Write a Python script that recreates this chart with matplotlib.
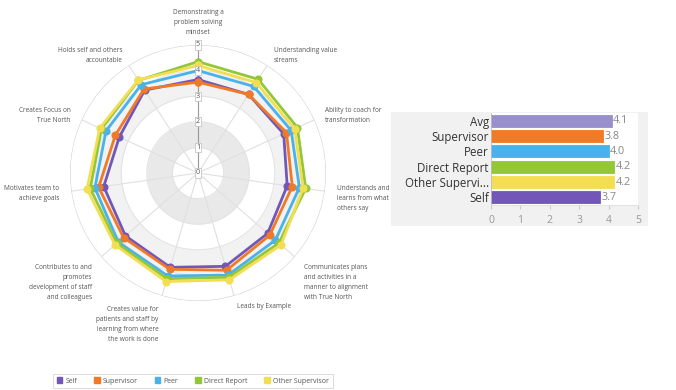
import numpy as np
import matplotlib
matplotlib.use("Agg")
import matplotlib.pyplot as plt
from matplotlib.patches import Rectangle, Patch

plt.rcParams['font.family'] = ['Open Sans', 'DejaVu Sans']

# ---------------- data ----------------
categories = [
    "Demonstrating a\nproblem solving\nmindset",
    "Understanding value\nstreams",
    "Ability to coach for\ntransformation",
    "Understands and\nlearns from what\nothers say",
    "Communicates plans\nand activities in a\nmanner to alignment\nwith True North",
    "Leads by Example",
    "Creates value for\npatients and staff by\nlearning from where\nthe work is done",
    "Contributes to and\npromotes\ndevelopment of staff\nand colleagues",
    "Motivates team to\nachieve goals",
    "Creates Focus on\nTrue North",
    "Holds self and others\naccountable",
]
series_names = ["Self", "Supervisor", "Peer", "Direct Report", "Other Supervisor"]
self_vals = [3.65, 3.65, 3.68, 3.52, 3.60, 3.80, 3.84, 3.75, 3.72, 3.38, 3.85]
supervisor_vals = [3.55, 3.65, 3.80, 3.72, 3.71, 3.96, 3.92, 3.85, 3.92, 3.55, 3.90]
peer_vals = [4.00, 4.02, 4.00, 4.00, 4.00, 4.16, 4.19, 4.12, 4.07, 3.95, 4.10]
direct_vals = [4.35, 4.35, 4.27, 4.25, 4.18, 4.25, 4.30, 4.20, 4.25, 4.15, 4.30]
other_vals = [4.20, 4.20, 4.15, 4.15, 4.29, 4.35, 4.42, 4.29, 4.38, 4.22, 4.32]
radial_ticks = [0, 1, 2, 3, 4, 5]

bar_labels = ["Avg", "Supervisor", "Peer", "Direct Report", "Other Supervi...", "Self"]
bar_values = [4.1, 3.8, 4.0, 4.2, 4.2, 3.7]
bar_ticks = [0, 1, 2, 3, 4, 5]

# ---------------- styles ----------------
series_colors = ["#7257b8", "#f07a26", "#4ab2ea", "#93c738", "#f3de52"]
bar_colors = ["#9890cc", "#f07a26", "#4ab2ea", "#93c738", "#f3de52", "#7257b8"]

fig = plt.figure(figsize=(6.76, 3.90), dpi=100)
W, H = 676.0, 390.0

# bar-chart background panel (drawn first, behind everything)
fig.patches.append(Rectangle((391 / W, 1 - 226 / H), 257 / W, 114 / H,
                             transform=fig.transFigure, facecolor="#f1f1f1",
                             edgecolor="none", zorder=-10))

# ---------------- radar ----------------
cx, cy, R5 = 198.0, 173.0, 128.0
ax = fig.add_axes([(cx - R5) / W, (H - cy - R5) / H, 2 * R5 / W, 2 * R5 / H],
                  projection="polar")
ax.set_theta_zero_location("N")
ax.set_theta_direction(-1)
ax.set_ylim(0, 5)
ax.grid(False)
ax.set_xticks([])
ax.set_yticks([])
ax.spines["polar"].set_visible(False)
ax.patch.set_alpha(0)

n = len(categories)
angles = np.arange(n) * 2 * np.pi / n
full = np.linspace(0, 2 * np.pi, 400)

# bands
ax.fill_between(full, 1, 2, color="#e9e9e9", lw=0, zorder=0)
ax.fill_between(full, 3, 4, color="#f2f2f2", lw=0, zorder=0)
# grid circles
for r in radial_ticks[1:]:
    ax.plot(full, np.full_like(full, r), color="#d0d0d0" if r == 5 else "#e3e3e3",
            lw=0.8, zorder=1)
# spokes
for a in angles:
    ax.plot([a, a], [0, 5], color="#e0e0e0", lw=0.8, zorder=1)
ax.plot([0, 0], [0, 5], color="#9a9a9a", lw=0.8, zorder=1)

all_series = [self_vals, supervisor_vals, peer_vals, direct_vals, other_vals]
for vals, col, name in zip(all_series, series_colors, series_names):
    v = list(vals) + [vals[0]]
    a = list(angles) + [angles[0]]
    ax.plot(a, v, color=col, lw=2.0, marker="o", markersize=4.8, zorder=3,
            solid_joinstyle="round")

# radial tick labels
for r in radial_ticks:
    ax.text(0, r, str(r), ha="center", va="center", fontsize=5.2, color="#555",
            zorder=5,
            bbox=dict(boxstyle="square,pad=0.15", fc="white", ec="#bbbbbb", lw=0.5))

# category labels (figure pixel coords)
Rlab = 140.0
for i, (lab, a) in enumerate(zip(categories, angles)):
    x = cx + Rlab * np.sin(a)
    y = cy - Rlab * np.cos(a)
    if i == 0:
        ha, va, yt = "center", "bottom", 36.0
    else:
        ha = "left" if np.sin(a) > 0.05 else ("right" if np.sin(a) < -0.05 else "center")
        if np.cos(a) < -0.5:
            yt = y - 1.0 if lab.count("\n") > 0 else y - 4.0
        else:
            yt = y - 8.0
        va = "top"
    fig.text(x / W, 1 - yt / H, lab, ha=ha, va=va, fontsize=4.7, color="#555",
             linespacing=1.6, multialignment=ha if ha != "center" else "center")

# legend
handles = [Patch(facecolor=c, edgecolor=c) for c in series_colors]
leg = fig.legend(handles, series_names, loc="center", ncol=5,
                 bbox_to_anchor=(193 / W, 1 - 381 / H), fontsize=5.0,
                 frameon=True, handlelength=0.8, handleheight=0.8,
                 handletextpad=0.5, columnspacing=2.4, borderpad=0.5,
                 fancybox=False)
leg.get_frame().set_edgecolor("#cccccc")
leg.get_frame().set_linewidth(0.6)
for t in leg.get_texts():
    t.set_color("#555")

# ---------------- bar chart ----------------
bx = fig.add_axes([491 / W, 1 - 205 / H, 147 / W, 92 / H])
bx.set_zorder(2)
bx.set_facecolor("white")
ypos = np.arange(len(bar_labels))
bx.barh(ypos, bar_values, height=0.8, color=bar_colors,
        edgecolor=bar_colors, lw=0.6)
bx.set_xlim(0, 5)
bx.set_ylim(len(bar_labels) - 0.5, -0.5)
bx.set_yticks(ypos)
bx.set_yticklabels(bar_labels, fontsize=8.3, color="#333")
bx.set_xticks(bar_ticks)
bx.set_xticklabels([str(t) for t in bar_ticks], fontsize=7.5, color="#999")
bx.tick_params(axis="y", length=0, pad=1.5)
bx.tick_params(axis="x", length=3, color="#cccccc", pad=4)
for s in ["top", "right"]:
    bx.spines[s].set_visible(False)
bx.spines["left"].set_color("#bbbbbb")
bx.spines["left"].set_linewidth(0.6)
bx.spines["bottom"].set_color("#e0e0e0")
bx.spines["bottom"].set_linewidth(0.6)
for yv, v in zip(ypos, bar_values):
    bx.text(v + 0.05, yv, f"{v:.1f}", va="center", ha="left", fontsize=7.8,
            color="#888")

fig.savefig("out.png", dpi=100, facecolor="white")
